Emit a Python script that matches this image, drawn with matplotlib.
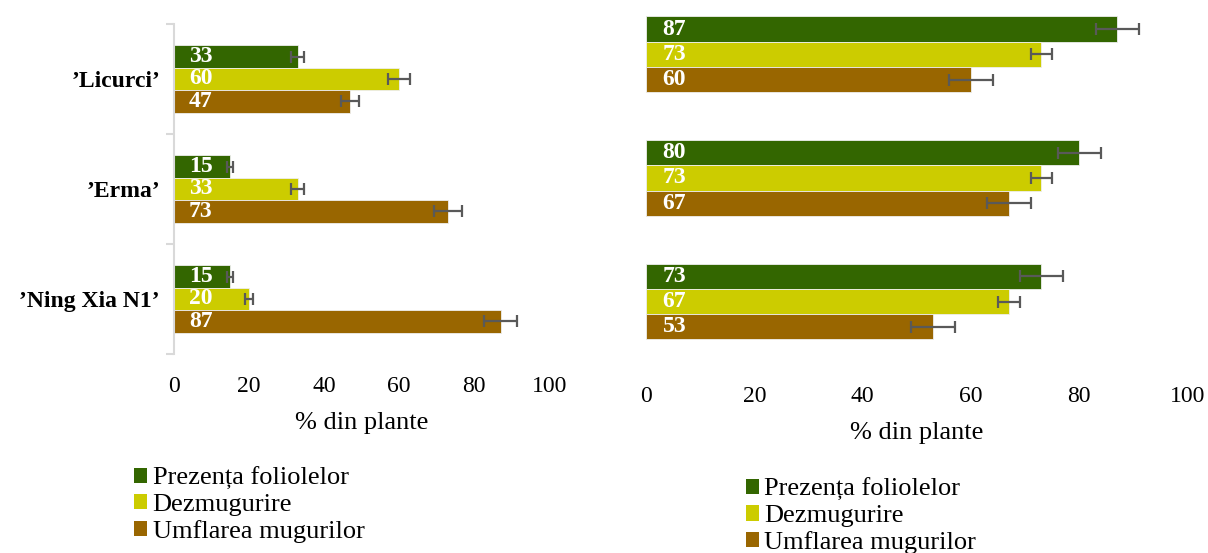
import matplotlib.pyplot as plt
from matplotlib.patches import Patch
import numpy as np

# soiuri si fenofaze
cultivars = ["’Licurci’", "’Erma’", "’Ning Xia N1’"]
phases = ["Prezența foliolelor", "Dezmugurire", "Umflarea mugurilor"]
colors = ["#336600", "#CCCC00", "#996600"]

# primul grafic (% din plante)
left_foliole = [33, 15, 15]
left_dezm = [60, 33, 20]
left_umfl = [47, 73, 87]
left_foliole_err = [1.7, 0.8, 0.8]
left_dezm_err = [3.0, 1.7, 1.0]
left_umfl_err = [2.4, 3.7, 4.4]

# al doilea grafic
right_foliole = [87, 80, 73]
right_dezm = [73, 73, 67]
right_umfl = [60, 67, 53]
right_foliole_err = [4, 4, 4]
right_dezm_err = [2, 2, 2]
right_umfl_err = [4, 4, 4]

xticks = [0, 20, 40, 60, 80, 100]
xlabel = "% din plante"

plt.rcParams['font.family'] = ['Liberation Serif', 'DejaVu Serif']

fig = plt.figure(figsize=(12.08, 5.53), dpi=100)
ax1 = fig.add_axes([0.1440, 0.3599, 0.3108, 0.5967])
ax2 = fig.add_axes([0.5348, 0.3427, 0.4484, 0.6710])

h = 0.204


def draw_bars(ax, series, errors, label_pad):
    y = np.arange(len(cultivars))
    for i, (vals, errs) in enumerate(zip(series, errors)):
        pos = y + (i - 1) * h
        ax.barh(pos, vals, height=h, color=colors[i], edgecolor='#eeeeee', linewidth=0.6)
        ax.errorbar(vals, pos, xerr=errs, fmt='none', ecolor='#595959',
                    elinewidth=1.6, capsize=4, capthick=1.6)
        for v, p in zip(vals, pos):
            ax.annotate(str(v), xy=(0, p), xytext=(label_pad, 0), textcoords='offset points',
                        ha='left', va='center', color='white', fontweight='bold', fontsize=17)
    ax.set_xlim(0, 100)
    ax.set_ylim(2.5, -0.5)
    ax.set_xticks(xticks)
    ax.tick_params(axis='x', length=0, labelsize=17)
    for s in ['top', 'right', 'bottom']:
        ax.spines[s].set_visible(False)


draw_bars(ax1, [left_foliole, left_dezm, left_umfl],
          [left_foliole_err, left_dezm_err, left_umfl_err], 10.8)
draw_bars(ax2, [right_foliole, right_dezm, right_umfl],
          [right_foliole_err, right_dezm_err, right_umfl_err], 12)

# axa y stanga cu separatoare intre grupe
ax1.spines['left'].set_color('#d9d9d9')
ax1.spines['left'].set_linewidth(1.5)
ax1.set_yticks([0, 1, 2])
ax1.set_yticklabels(cultivars, fontweight='bold', fontsize=17)
ax1.tick_params(axis='y', which='major', length=0, pad=10)
ax1.set_yticks([-0.5, 0.5, 1.5, 2.5], minor=True)
ax1.tick_params(axis='y', which='minor', length=6, width=1.5, color='#d9d9d9')
ax1.tick_params(axis='x', pad=16)
ax1.set_xlabel(xlabel, fontsize=19, labelpad=11)

ax2.spines['left'].set_visible(False)
ax2.set_yticks([])
ax2.tick_params(axis='x', pad=16)
ax2.set_xlabel(xlabel, fontsize=19, labelpad=11)

handles = [Patch(facecolor=c, edgecolor='none') for c in colors]
for anchor in [(0.111, 0.155), (0.6175, 0.135)]:
    fig.legend(handles, phases, loc='upper left', bbox_to_anchor=anchor, frameon=False,
               fontsize=19, handlelength=0.5, handleheight=0.5, handletextpad=0.2,
               labelspacing=0.15, borderpad=0, borderaxespad=0)

fig.savefig('out.png', dpi=100)
